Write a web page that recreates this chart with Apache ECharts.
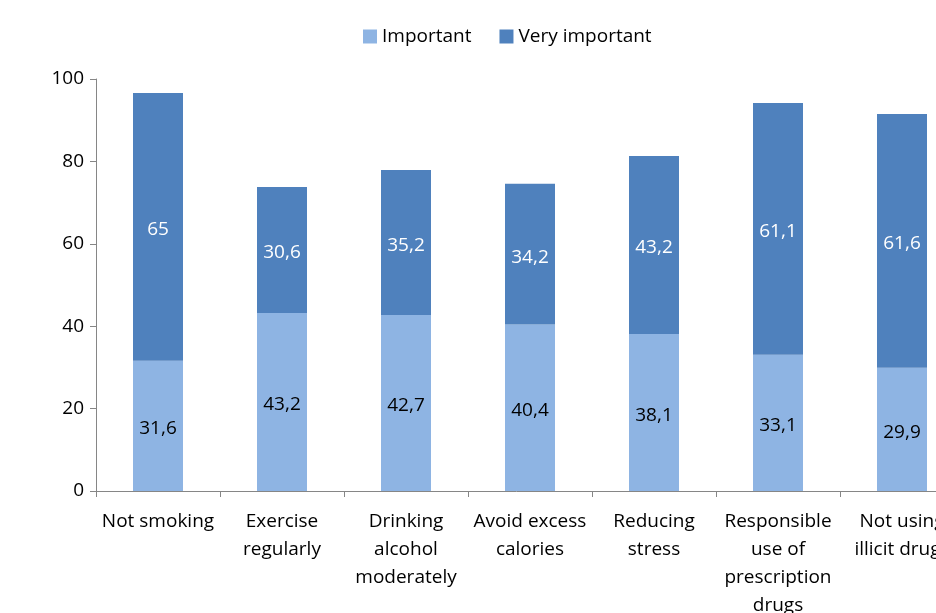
<!DOCTYPE html>
<html><head><meta charset="utf-8">
<script src="https://cdn.jsdelivr.net/npm/echarts@6/dist/echarts.min.js"></script>
<style>html,body{margin:0;padding:0;background:#fff}#c{width:936px;height:613px}</style>
</head><body><div id="c"></div>
<script>
const categories = ["Not smoking","Exercise\nregularly","Drinking\nalcohol\nmoderately","Avoid excess\ncalories","Reducing\nstress","Responsible\nuse of\nprescription\ndrugs","Not using\nillicit drugs"];
const important = [31.6, 43.2, 42.7, 40.4, 38.1, 33.1, 29.9];
const veryImportant = [65, 30.6, 35.2, 34.2, 43.2, 61.1, 61.6];
const yTicks = [0, 20, 40, 60, 80, 100];

const FONT = 'Open Sans';
const FS = 19;
const fmt = p => String(p.value).replace('.', ',');
const chart = echarts.init(document.getElementById('c'));
chart.setOption({
  animation: false,
  textStyle: {fontFamily: FONT},
  legend: {
    left: 358, top: 22, itemWidth: 14, itemHeight: 14, itemGap: 28,
    icon: 'rect',
    textStyle: {fontFamily: FONT, fontSize: FS, color: '#000'},
    data: ['Important', 'Very important']
  },
  grid: {left: 96, top: 79, width: 868, height: 412, containLabel: false, outerBoundsMode: 'none'},
  xAxis: {
    type: 'category', data: categories,
    axisLine: {lineStyle: {color: '#868686', width: 1}},
    axisTick: {show: true, length: 6, lineStyle: {color: '#868686'}},
    axisLabel: {fontFamily: FONT, fontSize: FS, color: '#000', lineHeight: 28, margin: 17, interval: 0}
  },
  yAxis: {
    type: 'value', min: 0, max: 100, interval: 20,
    axisLine: {show: true, lineStyle: {color: '#868686', width: 1}},
    axisTick: {show: true, length: 6, lineStyle: {color: '#868686'}},
    splitLine: {show: false},
    axisLabel: {fontFamily: FONT, fontSize: FS, color: '#000', margin: 12,
      formatter: v => yTicks.includes(v) ? String(v) : ''}
  },
  series: [
    {name: 'Important', type: 'bar', stack: 's', data: important, barWidth: 50,
     itemStyle: {color: '#8EB4E3'},
     label: {show: true, position: 'inside', offset: [0, 3], formatter: fmt, fontFamily: FONT, fontSize: FS, color: '#000'}},
    {name: 'Very important', type: 'bar', stack: 's', data: veryImportant, barWidth: 50,
     itemStyle: {color: '#4F81BD'},
     label: {show: true, position: 'inside', offset: [0, 3], formatter: fmt, fontFamily: FONT, fontSize: FS, color: '#fff'}}
  ]
});
</script></body></html>
